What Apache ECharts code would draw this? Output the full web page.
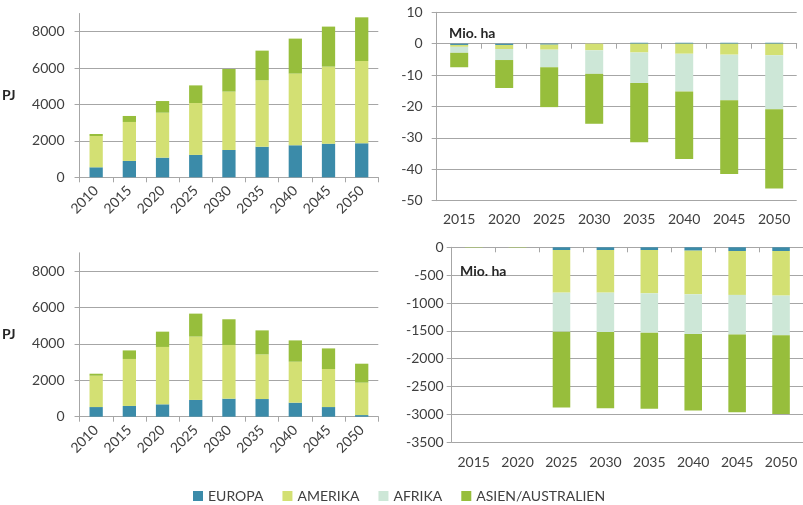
<!DOCTYPE html>
<html>
<head>
<meta charset="utf-8">
<script src="https://cdn.jsdelivr.net/npm/echarts@6/dist/echarts.min.js"></script>
<style>
  body { margin: 0px; padding: 0px; background: #fff; }
  #chart { width: 803px; height: 505px; }
</style>
</head>
<body>
<div id="chart"></div>
<script>
// categories
const yearsLeft = ["2010", "2015", "2020", "2025", "2030", "2035", "2040", "2045", "2050"];
const yearsRight = ["2015", "2020", "2025", "2030", "2035", "2040", "2045", "2050"];
const regions = ["EUROPA", "AMERIKA", "AFRIKA", "ASIEN/AUSTRALIEN"];
const colors = ["#3b8ba9", "#d3e073", "#cde7d7", "#97be3c"];

// oben links (PJ)
const pjTopEuropa = [550, 900, 1080, 1230, 1500, 1680, 1760, 1850, 1870];
const pjTopAmerika = [1720, 2140, 2470, 2850, 3210, 3650, 3940, 4230, 4520];
const pjTopAfrika = [0, 0, 0, 0, 0, 0, 0, 0, 0];
const pjTopAsien = [110, 330, 640, 970, 1240, 1630, 1920, 2200, 2400];

// unten links (PJ)
const pjBottomEuropa = [530, 590, 680, 920, 990, 970, 770, 530, 90];
const pjBottomAmerika = [1720, 2580, 3150, 3480, 2950, 2450, 2250, 2090, 1780];
const pjBottomAfrika = [0, 0, 0, 0, 0, 0, 0, 0, 0];
const pjBottomAsien = [110, 470, 840, 1260, 1410, 1320, 1170, 1130, 1040];

// oben rechts (Mio. ha)
const haTopEuropa = [-0.4, -0.4, -0.3, 0, 0.3, 0.3, 0.3, 0.3];
const haTopAmerika = [-0.6, -1.3, -1.6, -2.1, -2.8, -3.2, -3.5, -3.7];
const haTopAfrika = [-1.9, -3.5, -5.6, -7.5, -9.7, -12.0, -14.5, -17.2];
const haTopAsien = [-4.6, -8.9, -12.7, -15.9, -18.9, -21.5, -23.5, -25.2];

// unten rechts (Mio. ha)
const haBottomEuropa = [0, 0, -48, -48, -48, -60, -66, -66];
const haBottomAmerika = [-3, -3, -766, -766, -778, -784, -789, -801];
const haBottomAfrika = [-3, -3, -700, -706, -706, -711, -712, -712];
const haBottomAsien = [-6, -6, -1363, -1369, -1368, -1375, -1393, -1411];

const leftTicks = { min: 0, max: 9000, interval: 2000 };
const topRightTicks = { min: -50, max: 10, interval: 10 };
const bottomRightTicks = { min: -3500, max: 0, interval: 500 };

const gray = "#a6a6a6";
const textColor = "#404040";
// no thousands separator on the value axes
const plain = (v) => String(v);

function makeSeries(dataSets, xIndex, yIndex, stack) {
  return dataSets.map((data, i) => ({
    name: regions[i],
    type: "bar",
    stack: stack,
    xAxisIndex: xIndex,
    yAxisIndex: yIndex,
    barWidth: "40%",
    itemStyle: { color: colors[i] },
    data: data,
  }));
}

function leftXAxis(gridIndex) {
  return {
    type: "category",
    gridIndex: gridIndex,
    data: yearsLeft,
    axisLine: { lineStyle: { color: gray } },
    axisTick: { show: true, length: 5, lineStyle: { color: gray } },
    axisLabel: { rotate: 45, fontSize: 14, color: textColor, margin: 11 },
  };
}

function leftYAxis(gridIndex) {
  return {
    type: "value",
    gridIndex: gridIndex,
    min: leftTicks.min,
    max: leftTicks.max,
    interval: leftTicks.interval,
    name: "PJ",
    nameLocation: "middle",
    nameRotate: 0,
    nameGap: 64,
    nameTextStyle: { fontSize: 14, fontWeight: "bold", color: "#262626" },
    axisLine: { show: true, lineStyle: { color: gray } },
    axisTick: { show: true, length: 5, lineStyle: { color: gray } },
    axisLabel: { fontSize: 14, color: textColor, margin: 15, showMaxLabel: false, formatter: plain },
    splitLine: { show: true, showMaxLine: false, lineStyle: { color: gray } },
  };
}

function rightXAxes(gridIndex, margin) {
  // one axis for the labels at the bottom, one for the line at zero
  return [
    {
      type: "category",
      gridIndex: gridIndex,
      data: yearsRight,
      position: "bottom",
      axisLine: { show: false, onZero: false },
      axisTick: { show: false },
      axisLabel: { fontSize: 14, color: textColor, margin: margin },
    },
    {
      type: "category",
      gridIndex: gridIndex,
      data: yearsRight,
      position: "bottom",
      axisLine: { show: true, onZero: true, lineStyle: { color: gray } },
      axisTick: { show: true, length: 5, lineStyle: { color: gray } },
      axisLabel: { show: false },
    },
  ];
}

function rightYAxis(gridIndex, ticks, margin) {
  return {
    type: "value",
    gridIndex: gridIndex,
    min: ticks.min,
    max: ticks.max,
    interval: ticks.interval,
    axisLine: { show: true, lineStyle: { color: gray } },
    axisTick: { show: true, length: 5, lineStyle: { color: gray } },
    axisLabel: { fontSize: 14, color: textColor, margin: margin, formatter: plain },
    splitLine: { show: true, lineStyle: { color: gray } },
  };
}

let option = {
  animation: false,
  textStyle: { fontFamily: "Lato, 'Open Sans', sans-serif" },
  title: [
    { text: "Mio. ha", left: 444, top: 21, textStyle: { fontSize: 14, fontWeight: "bold", color: "#262626" } },
    { text: "Mio. ha", left: 455, top: 259, textStyle: { fontSize: 14, fontWeight: "bold", color: "#262626" } },
  ],
  legend: {
    data: regions,
    left: 193,
    top: 489,
    padding: 0,
    icon: "rect",
    itemWidth: 10,
    itemHeight: 10,
    itemGap: 19,
    textStyle: { fontSize: 14, color: textColor },
  },
  grid: [
    { left: 77.7, top: 13.5, width: 300.6, height: 163.8 },
    { left: 77.7, top: 252.8, width: 300.6, height: 163.9 },
    { left: 436.7, top: 12.3, width: 360, height: 188.4 },
    { left: 451.7, top: 247.3, width: 354.5, height: 195 },
  ],
  xAxis: [
    leftXAxis(0),
    leftXAxis(1),
    ...rightXAxes(2, 12),
    ...rightXAxes(3, 13),
  ],
  yAxis: [
    leftYAxis(0),
    leftYAxis(1),
    rightYAxis(2, topRightTicks, 14),
    rightYAxis(3, bottomRightTicks, 8),
  ],
  series: [
    ...makeSeries([pjTopEuropa, pjTopAmerika, pjTopAfrika, pjTopAsien], 0, 0, "tl"),
    ...makeSeries([pjBottomEuropa, pjBottomAmerika, pjBottomAfrika, pjBottomAsien], 1, 1, "bl"),
    ...makeSeries([haTopEuropa, haTopAmerika, haTopAfrika, haTopAsien], 2, 2, "tr"),
    ...makeSeries([haBottomEuropa, haBottomAmerika, haBottomAfrika, haBottomAsien], 4, 3, "br"),
  ],
};

let chart = echarts.init(document.getElementById("chart"));
chart.setOption(option);
</script>
</body>
</html>
